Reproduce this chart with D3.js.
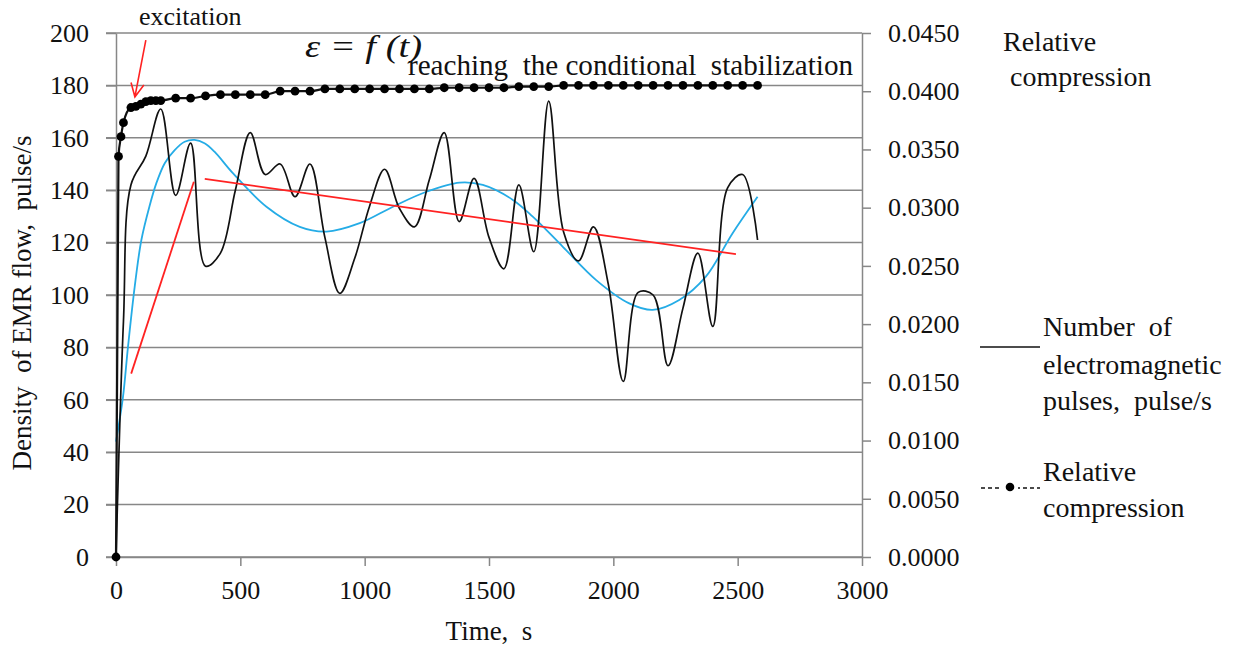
<!DOCTYPE html>
<html>
<head>
<meta charset="utf-8">
<script src="https://cdn.jsdelivr.net/npm/d3@7"></script>
<style>
  html, body { margin: 0; padding: 0; background: #fff; }
  svg { display: block; }
  svg text { white-space: pre; font-family: "Liberation Serif", "DejaVu Serif", serif; }
</style>
</head>
<body>
<svg id="chart" width="1244" height="648"></svg>
<script>
// ---------- data ----------
// Number of electromagnetic pulses, pulse/s (left axis)
const pulseTimes = [0, 30, 60, 120, 180, 240, 300, 360, 420, 480, 540, 600, 660, 720, 780, 840, 900, 960, 1020, 1080, 1140, 1200, 1260, 1320, 1380, 1440, 1500, 1560, 1620, 1680, 1740, 1800, 1860, 1920, 1980, 2040, 2100, 2160, 2220, 2280, 2340, 2400, 2460, 2520, 2580];
const pulseValues = [0, 90, 142, 153, 171, 138, 158, 111, 116, 140, 162, 146, 150, 137.5, 150, 122, 100.6, 114, 134, 148, 133, 126, 144, 162, 128, 144.5, 122, 110, 142, 116.5, 174, 124, 113, 126, 104, 67, 101, 100, 73, 95, 116, 88, 141, 146, 121];

// Relative compression (right axis)
const compTimes = [0, 10, 20, 30, 60, 80, 100, 120, 140, 160, 180, 240, 300, 360, 420, 480, 540, 600, 660, 720, 780, 840, 900, 960, 1020, 1080, 1140, 1200, 1260, 1320, 1380, 1440, 1500, 1560, 1620, 1680, 1740, 1800, 1860, 1920, 1980, 2040, 2100, 2160, 2220, 2280, 2340, 2400, 2460, 2520, 2580];
const compValues = [0, 0.0344, 0.0361, 0.0373, 0.0386, 0.0387, 0.0389, 0.0391, 0.0392, 0.0392, 0.0392, 0.0394, 0.0394, 0.0396, 0.0397, 0.0397, 0.0397, 0.0397, 0.0400, 0.0400, 0.0400, 0.0402, 0.0402, 0.0402, 0.0402, 0.0402, 0.0402, 0.0402, 0.0402, 0.0403, 0.0403, 0.0403, 0.0403, 0.0403, 0.0404, 0.0404, 0.0404, 0.0405, 0.0405, 0.0405, 0.0405, 0.0405, 0.0405, 0.0405, 0.0405, 0.0405, 0.0405, 0.0405, 0.0405, 0.0405, 0.0405];

// Trend curve (blue) of pulse density
const trendTimes = [0, 28, 48, 75, 102, 135, 162, 196, 236, 276, 316, 356, 396, 471, 605, 739, 846, 980, 1114, 1248, 1382, 1475, 1596, 1676, 1797, 1931, 2064, 2158, 2265, 2372, 2479, 2580];
const trendValues = [44, 61, 80, 103, 121, 134, 142.6, 150.3, 155.3, 158.5, 159.2, 157.9, 154.7, 146.4, 133.7, 126, 124.2, 127.4, 133.7, 139.4, 142.9, 142, 136.3, 129.9, 118.4, 105.7, 96.8, 94.3, 98.1, 107, 123.5, 137.5];

// Red straight trend segments
const redSegments = [
  [[61, 70], [313, 143.2]],
  [[357, 144.3], [2493, 115.6]]
];
// Excitation arrow (from, to) in data units
const arrowFrom = [120, 197.3];
const arrowTo = [76, 175.6];

// Axis ticks
const xTicks = [0, 500, 1000, 1500, 2000, 2500, 3000];
const yLeftTicks = [0, 20, 40, 60, 80, 100, 120, 140, 160, 180, 200];
const yRightTicks = [0, 0.005, 0.010, 0.015, 0.020, 0.025, 0.030, 0.035, 0.040, 0.045];

// ---------- drawing ----------
const FONT = '"Liberation Serif", "DejaVu Serif", serif';
const svg = d3.select("#chart");
const x = d3.scaleLinear().domain([0, 3000]).range([116, 862]);
const yL = d3.scaleLinear().domain([0, 200]).range([557, 33]);
const yR = d3.scaleLinear().domain([0, 0.045]).range([557, 33]);

const gridColor = "#878787";

// gridlines
svg.append("g").selectAll("line").data(yLeftTicks).join("line")
  .attr("x1", 106).attr("x2", 862)
  .attr("y1", d => yL(d)).attr("y2", d => yL(d))
  .attr("stroke", gridColor).attr("stroke-width", 1.5);

function styleAxis(g) {
  g.attr("font-family", FONT);
  g.select(".domain").attr("stroke", gridColor).attr("stroke-width", 1.5);
  g.selectAll(".tick line").attr("stroke", gridColor).attr("stroke-width", 1.5);
  g.selectAll(".tick text").attr("fill", "#111").attr("font-family", FONT)
    .style("font-size", "26px").style("font-family", FONT);
}

// left axis
svg.append("g").attr("transform", "translate(116,0)")
  .call(d3.axisLeft(yL).tickValues(yLeftTicks).tickSizeInner(10).tickSizeOuter(0).tickPadding(17))
  .call(styleAxis);

// right axis
svg.append("g").attr("transform", "translate(862,0)")
  .call(d3.axisRight(yR).tickValues(yRightTicks).tickFormat(d3.format(".4f")).tickSizeInner(9).tickSizeOuter(0).tickPadding(17))
  .call(styleAxis);

// bottom axis
svg.append("g").attr("transform", "translate(0,557)")
  .call(d3.axisBottom(x).tickValues(xTicks).tickFormat(d3.format("d")).tickSizeInner(9).tickSizeOuter(0).tickPadding(15))
  .call(styleAxis);

// blue trend curve
const trendData = trendTimes.map((t, i) => [t, trendValues[i]]);
svg.append("path").datum(trendData)
  .attr("d", d3.line().x(d => x(d[0])).y(d => yL(d[1])).curve(d3.curveCatmullRom.alpha(0.5)))
  .attr("fill", "none").attr("stroke", "#25ace6").attr("stroke-width", 1.8);

// black pulse curve
const pulseData = pulseTimes.map((t, i) => [t, pulseValues[i]]);
svg.append("path").datum(pulseData)
  .attr("d", d3.line().x(d => x(d[0])).y(d => yL(d[1])).curve(d3.curveCatmullRom.alpha(0.5)))
  .attr("fill", "none").attr("stroke", "#111").attr("stroke-width", 1.7);

// red segments
svg.append("g").selectAll("line").data(redSegments).join("line")
  .attr("x1", d => x(d[0][0])).attr("y1", d => yL(d[0][1]))
  .attr("x2", d => x(d[1][0])).attr("y2", d => yL(d[1][1]))
  .attr("stroke", "#ff2222").attr("stroke-width", 1.8);

// relative compression line + dots
const compData = compTimes.map((t, i) => [t, compValues[i]]);
svg.append("path").datum(compData)
  .attr("d", d3.line().x(d => x(d[0])).y(d => yR(d[1])).curve(d3.curveMonotoneX))
  .attr("fill", "none").attr("stroke", "#111").attr("stroke-width", 2.2);
svg.append("g").selectAll("circle").data(compData).join("circle")
  .attr("cx", d => x(d[0])).attr("cy", d => yR(d[1])).attr("r", 4.4)
  .attr("fill", "#000");

// excitation arrow
const ax1 = x(arrowFrom[0]), ay1 = yL(arrowFrom[1]);
const ax2 = x(arrowTo[0]), ay2 = yL(arrowTo[1]);
const ang = Math.atan2(ay2 - ay1, ax2 - ax1);
const hl = 15, ha = 0.45;
svg.append("path")
  .attr("d", `M${ax1},${ay1}L${ax2},${ay2}` +
    `M${ax2 - hl * Math.cos(ang - ha)},${ay2 - hl * Math.sin(ang - ha)}L${ax2},${ay2}` +
    `L${ax2 - hl * Math.cos(ang + ha)},${ay2 - hl * Math.sin(ang + ha)}`)
  .attr("fill", "none").attr("stroke", "#ff2222").attr("stroke-width", 1.6);

// ---------- texts ----------
const T = (txt, px, py, size, opts = {}) => {
  const t = svg.append("text").attr("x", px).attr("y", py).text(txt)
    .attr("font-family", FONT).style("font-family", FONT)
    .style("font-size", size + "px").attr("fill", opts.fill || "#111");
  if (opts.anchor) t.attr("text-anchor", opts.anchor);
  if (opts.italic) t.style("font-style", "italic");
  if (opts.len) t.attr("textLength", opts.len).attr("lengthAdjust", "spacingAndGlyphs");
  return t;
};

T("excitation", 139, 25, 26);
T("ε = f (t)", 305, 57, 32, { italic: true, len: 117 });
T("reaching  the conditional  stabilization", 408, 75, 30, { len: 445 });

// right axis title
T("Relative", 1003, 51, 28);
T(" compression", 1003, 86, 28);

// legend
svg.append("line").attr("x1", 980).attr("x2", 1040).attr("y1", 347).attr("y2", 347)
  .attr("stroke", "#111").attr("stroke-width", 1.7);
T("Number  of", 1043, 336, 28);
T("electromagnetic", 1043, 374, 28);
T("pulses,  pulse/s", 1043, 410, 28);

svg.append("line").attr("x1", 981).attr("x2", 1040).attr("y1", 488).attr("y2", 488)
  .attr("stroke", "#111").attr("stroke-width", 1.5).attr("stroke-dasharray", "4,3");
svg.append("rect").attr("x", 1002).attr("y", 482).attr("width", 16).attr("height", 12).attr("fill", "#fff");
svg.append("circle").attr("cx", 1010).attr("cy", 487).attr("r", 4.3).attr("fill", "#000");
T("Relative", 1043, 481, 28);
T("compression", 1043, 517, 28);

// axis titles
svg.append("text").attr("transform", "translate(31,303) rotate(-90)")
  .attr("text-anchor", "middle").text("Density  of EMR flow,  pulse/s")
  .attr("font-family", FONT).style("font-family", FONT)
  .style("font-size", "27px").attr("fill", "#111")
  .attr("textLength", 335).attr("lengthAdjust", "spacingAndGlyphs");
T("Time,  s", 489, 640, 27, { anchor: "middle" });
</script>
</body>
</html>
